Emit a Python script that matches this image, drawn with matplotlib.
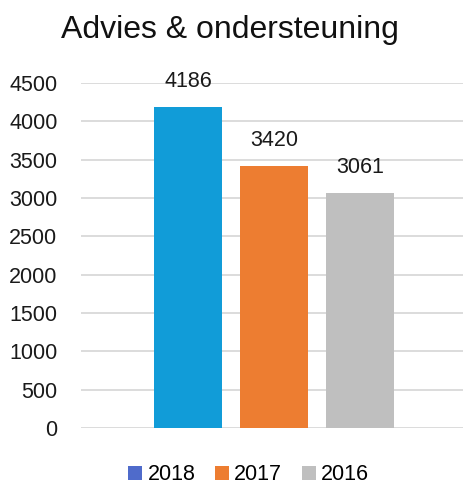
import matplotlib
matplotlib.use("Agg")
import matplotlib.pyplot as plt
from matplotlib.patches import Patch

plt.rcParams['font.family'] = ['Liberation Sans', 'DejaVu Sans']

title = "Advies & ondersteuning"
series = ["2018", "2017", "2016"]
values = [4186, 3420, 3061]
bar_colors = ["#119CD8", "#ED7D31", "#BFBFBF"]
legend_colors = ["#4F6BCB", "#ED7D31", "#BFBFBF"]
yticks = [0, 500, 1000, 1500, 2000, 2500, 3000, 3500, 4000, 4500]

fig = plt.figure(figsize=(4.63, 4.87), dpi=100)
ax = fig.add_axes([0.175, 0.121, 0.825, 0.7086])

offsets = [-0.22, 0.005, 0.23]
width = 0.178
for off, v, c in zip(offsets, values, bar_colors):
    ax.bar(off, v, width=width, color=c, zorder=3)
    ax.annotate(str(v), (off, v), xytext=(0, 11), textcoords="offset points",
                ha="center", va="bottom", fontsize=15.5, color="#1a1a1a")

ax.set_xlim(-0.5, 0.5)
ax.set_ylim(0, 4500)
ax.set_yticks(yticks)
ax.set_yticklabels([str(t) for t in yticks], fontsize=15.5, color="#1a1a1a")
ax.set_xticks([])
ax.tick_params(axis='y', length=0, pad=17)
for s in ax.spines.values():
    s.set_visible(False)
ax.grid(axis='y', color="#D9D9D9", linewidth=1.3, zorder=0)

fig.text(0.497, 0.938, title, ha="center", va="center", fontsize=23, color="#111111")

handles = [Patch(facecolor=c, edgecolor='none') for c in legend_colors]
fig.legend(handles, series, loc="center", bbox_to_anchor=(0.537, 0.025), ncol=3,
           frameon=False, fontsize=15.5, handlelength=0.65, handleheight=0.65,
           handletextpad=0.25, columnspacing=0.9, borderpad=0.05)

fig.savefig("out.png", dpi=100)
